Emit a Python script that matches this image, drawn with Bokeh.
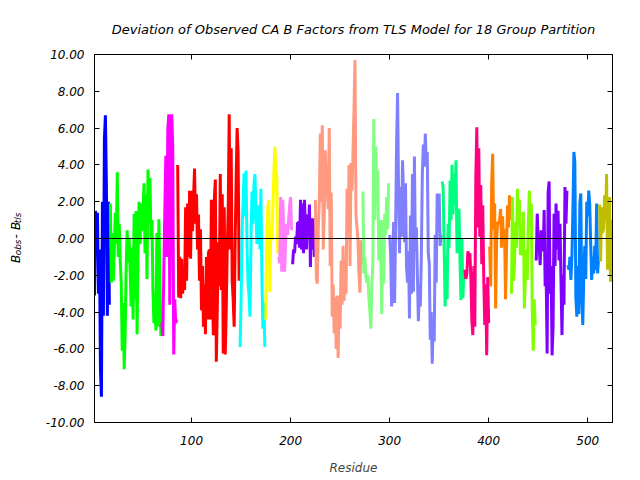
import math
from bokeh.plotting import figure
from bokeh.layouts import row
from bokeh.models import (LinearAxis, FixedTicker, NumeralTickFormatter, Span, Range1d)
from bokeh.core.properties import value
from bokeh.embed import file_html
from bokeh.resources import INLINE

# ---- data: B_obs - B_tls per residue, one list per TLS group ----
group_start = [2, 18, 70, 86, 149, 175, 188, 202, 225, 273, 300, 353, 376, 401, 423, 448, 480, 512]
group_color = ["#0000FF", "#00FF00", "#FF00FF", "#FF0000", "#00FFFF", "#FFFF00",
               "#FF80FF", "#8000FF", "#FF9980", "#80FF80", "#8080FF", "#00FF80",
               "#FF0080", "#FF8000", "#80FF00", "#8000FF", "#0080FF", "#BFBF00"]

g01 = [-3.1, 1.5, -0.3, 1.4, -3.0, -0.6, -7.1, -8.6, 2.0, -4.2, 5.4, 6.7, 2.9, -4.2, 2.0, -3.6]
g02 = [1.9, -2.4, 0.3, -2.3, -0.5, 1.4, -0.3, 3.6, -1.0, 0.8, -1.2, -2.4, -6.1, -3.5, -7.1, -5.0,
       -1.5, 0.45, -1.3, 0.0, -1.8, -3.7, -0.5, -4.4, 1.35, -3.3, 1.5, -5.2, -0.5, 2.0, -0.3, 1.9,
       0.4, 1.5, 3.0, -0.8, 2.4, -2.2, 3.75, 0.8, 3.3, 0.0, 1.0, -2.8, -4.6, -3.0, -5.0, 0.3,
       -4.8, 1.05, -2.0, -5.3]
g03 = [-4.6, -5.3, -1.7, 1.5, 4.5, -1.0, 5.95, 6.75, -3.6, 3.1, 6.75, 5.0, -6.3, -3.3, -4.6, -4.4]
g04 = [4.0, -3.2, -1.0, -3.25, -1.1, -3.0, -1.7, -2.8, 1.7, -2.3, 1.9, -1.0, 2.6, -1.1, 2.6, 0.4,
       2.2, 3.8, 0.8, 2.4, -0.6, 1.3, -2.3, 0.5, -3.9, -1.5, -4.8, -2.5, -5.2, -1.0, -4.4, -0.8,
       -0.6, -4.4, 2.1, -2.6, -5.25, 2.1, 3.2, -6.7, -3.7, -0.2, -2.6, 3.5, -2.8, 2.4, -6.25, 1.7,
       -6.3, -3.9, -0.6, 1.5, 6.75, -0.6, 4.9, -2.3, -3.3, -4.8, -0.3, 3.2, 6.0, 4.7, -2.3]
g05 = [-5.9, -3.4, 0.4, 1.9, 3.55, 1.2, 3.7, -0.4, -2.4, -3.1, -4.25, -0.2, 2.55, 0.8, 2.9, 3.5,
       1.5, -0.3, 0.2, 1.8, -0.6, 2.7, -2.0, -4.9, -3.5, -5.9]
g06 = [-4.4, 0.6, 1.7, 2.1, -2.9, 0.5, -0.1, 1.5, 3.35, 5.0, 4.0, 3.4, -0.8]
g07 = [-1.0, -1.35, 2.25, -1.8, 2.1, 0.8, -1.8, -0.1, 0.8, 0.2, 1.0, 1.8, 2.25, 0.45]
g08 = [-1.4, -0.6, -0.8, 0.1, -0.3, 0.85, 0.85, -0.5, 2.1, -0.6, 1.9, -0.8, 2.1, 0.5, -0.6, 1.3,
       0.1, 1.85, -1.55, 1.1, -0.6, 1.1, -1.0]
g09 = [2.1, -2.2, -2.45, 0.6, 2.1, 5.7, 2.0, 6.15, -0.6, 1.4, 4.8, 2.6, 2.6, 1.6, 6.0, -1.5,
       2.5, -4.25, -2.5, -5.15, -3.2, -6.0, -3.1, -6.5, -3.1, -4.9, -1.2, -3.6, -0.4, -3.4, -1.2, -3.0,
       2.7, 0.5, 4.0, -1.5, 4.1, 2.6, 4.7, 7.05, 9.7, 1.3, 0.6, -0.1, -1.9, -2.95, -0.1, -1.4]
g10 = [2.55, -1.9, -1.0, -2.1, -2.4, -2.0, -3.2, -3.9, -4.9, -2.5, -1.5, 6.5, 1.0, 5.0, 2.0, 3.7,
       -1.2, 1.0, -0.6, -4.1, 1.0, -2.45, 1.35, 0.2, 2.25, 0.5, 3.0]
g11 = [0.2, -0.8, -3.7, -1.5, 0.9, -3.5, 0.45, 5.1, 7.9, 2.6, -0.8, 2.8, 0.1, 4.25, 2.5, -0.2,
       3.0, -1.5, -2.4, -0.7, -4.35, 1.25, -3.0, 3.5, -2.9, 4.45, -0.65, 0.6, -2.0, -4.5, -2.5, -3.7,
       -1.0, 3.5, 5.1, 3.9, 5.7, 4.0, 4.7, -0.8, -1.35, -5.5, -4.0, -6.8, -4.5, -5.6, 0.2, -2.4,
       2.45, 0.4, 2.45, -0.4, 0.2]
g12 = [3.1, 2.8, -0.45, -3.7, -1.0, -3.3, 0.8, -0.5, 3.15, 1.0, 4.0, 1.3, 3.5, 1.8, 4.25, -0.8,
       1.5, 1.6, -1.2, -3.35, 0.0, -3.25, -1.7]
g13 = [-1.7, -2.2, -1.9, -0.7, -1.0, -0.8, -2.1, -4.5, -5.25, -1.5, -4.8, 3.3, 6.05, 0.6, 4.9, 0.1,
       2.9, -1.4, 1.8, -2.1, -4.7, -2.5, -6.35, -2.1, -4.6]
g14 = [-0.45, -2.6, 3.0, 4.6, 0.5, 1.9, -3.8, -0.1, 0.9, 0.8, 1.0, 1.6, -0.5, 1.2, -0.3, 0.5,
       -3.3, -0.6, 1.8, 0.6, 2.35, 1.0]
g15 = [-3.0, 2.25, -2.3, -1.5, 0.9, -0.5, 2.7, 1.2, 2.1, -0.9, 0.3, -0.9, 1.45, -3.8, -2.2, -0.6,
       -2.25, 0.8, 2.6, 0.5, 1.9, -3.9, -6.1, -3.3, -4.7]
g16 = [-1.2, 1.35, -0.1, -0.45, -1.45, 0.45, 0.2, -0.7, 1.55, -2.6, -2.0, -6.25, 2.5, 3.1, -3.0, -1.5,
       -6.35, -4.8, 1.35, -1.5, 1.9, -0.6, 1.5, -1.2, 0.8, -2.3, -5.25, -2.0, -3.6, 2.8, 0.8, 2.6]
g17 = [-1.45, -1.7, -1.0, -2.25, -1.0, 1.5, 4.7, 4.15, -3.2, -4.25, -1.5, -4.1, 1.9, 2.45, -3.2, -4.7,
       -2.0, -0.4, -2.2, 2.0, 1.2, 2.6, 1.9, -0.3, -2.25, -1.0, -1.9, -0.4, -1.7, 1.9, -1.9, -1.0]
g18 = [1.85, -1.25, 1.7, 0.3, 0.6, 2.35, 1.0, 3.5, -1.7, 0.5, 2.25, -2.35, 1.0, -0.3]

groups = [g01, g02, g03, g04, g05, g06, g07, g08, g09, g10, g11, g12, g13, g14, g15, g16, g17, g18]

y_ticks = [-10, -8, -6, -4, -2, 0, 2, 4, 6, 8, 10]
x_ticks = [100, 200, 300, 400, 500]

# y-axis label pieces: text, font size
ylab_text = ["B", "obs", "-", "B", "tls"]
ylab_size = [12, 9, 12, 12, 9]

FONT = "DejaVu Sans"
LEFT_W = 30

p = figure(width=640 - LEFT_W, height=480, output_backend="svg", toolbar_location=None,
           x_range=Range1d(2, 525), y_range=Range1d(-10, 10),
           min_border_left=94 - LEFT_W, min_border_right=28, min_border_top=54, min_border_bottom=58,
           title="Deviation of Observed CA B Factors from TLS Model for 18 Group Partition")
p.background_fill_color = "white"
p.border_fill_color = "white"
p.outline_line_color = "black"
p.outline_line_width = 1
p.xgrid.visible = False
p.ygrid.visible = False

p.title.align = "center"
p.title.text_font = FONT
p.title.text_font_style = "italic"
p.title.text_font_size = "13px"
p.title.text_color = "black"
p.title.standoff = 35

p.add_layout(Span(location=0, dimension="width", line_color="black", line_width=1))

for start, vals, col in zip(group_start, groups, group_color):
    xs = list(range(start, start + len(vals)))
    p.line(xs, vals, line_color=col, line_width=3, line_join="bevel")


def style_axis(ax, ticks, show_labels):
    ax.ticker = FixedTicker(ticks=ticks)
    ax.major_tick_in = 5
    ax.major_tick_out = 0
    ax.minor_tick_in = 0
    ax.minor_tick_out = 0
    ax.axis_line_color = "black"
    ax.major_tick_line_color = "black"
    ax.major_label_text_font = FONT
    ax.major_label_text_font_style = "italic"
    ax.major_label_text_font_size = "12px"
    ax.major_label_text_color = "black" if show_labels else None


style_axis(p.xaxis[0], x_ticks, True)
style_axis(p.yaxis[0], y_ticks, True)
p.yaxis[0].formatter = NumeralTickFormatter(format="0.00")
p.xaxis[0].major_label_standoff = 13
p.yaxis[0].major_label_standoff = 10
p.xaxis[0].axis_label = "Residue"
p.xaxis[0].axis_label_text_font = FONT
p.xaxis[0].axis_label_text_font_style = "italic"
p.xaxis[0].axis_label_text_font_size = "12px"
p.xaxis[0].axis_label_standoff = 13

ra = LinearAxis()
style_axis(ra, y_ticks, False)
p.add_layout(ra, "right")
ta = LinearAxis()
style_axis(ta, x_ticks, False)
p.add_layout(ta, "above")

# narrow strip on the left carrying the rotated y-axis label with subscripts
lab = figure(width=LEFT_W, height=480, output_backend="svg", toolbar_location=None,
             x_range=Range1d(0, LEFT_W), y_range=Range1d(480, 0),
             min_border=0, min_border_left=0, min_border_right=0,
             min_border_top=0, min_border_bottom=0)
lab.axis.visible = False
lab.grid.visible = False
lab.outline_line_color = None
lab.background_fill_color = "white"
lab.border_fill_color = "white"

# positions (pixels in the strip): baseline x and start y (text runs upward)
ylab_x = [15, 17.5, 15, 15, 17.5]
ylab_y = [272, 262, 240, 229, 220]
for t, fs, xx, yy in zip(ylab_text, ylab_size, ylab_x, ylab_y):
    lab.text(x=[xx], y=[yy], text=[t], angle=math.pi / 2,
             text_font=value(FONT), text_font_style="italic",
             text_font_size=f"{fs}px", text_color="black",
             text_align="left", text_baseline="alphabetic")

layout = row(lab, p, spacing=0)
open("out.html", "w").write(file_html(layout, INLINE))
